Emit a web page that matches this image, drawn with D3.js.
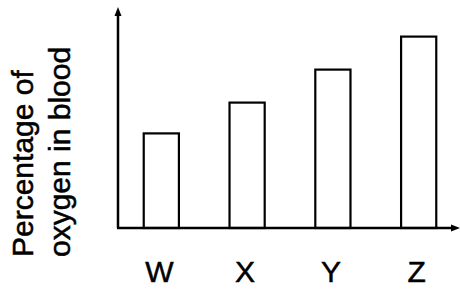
<!DOCTYPE html>
<meta charset="utf-8">
<style>
  body { margin: 0; background: #fff; }
  text { font-family: "Liberation Sans", Arial, sans-serif; fill: #000; stroke: #000; stroke-width: 0.5; }
</style>
<svg width="460" height="289"></svg>

<script src="https://d3js.org/d3.v7.min.js"></script>
<script>
// groups along the x axis and their (unlabelled) oxygen levels
var categories = ["W", "X", "Y", "Z"]
var oxygen = [43, 57, 72, 87]
var yLabelLines = ["Percentage of", "oxygen in blood"]

var svg = d3.select("svg")

var originX = 118, originY = 228
var axisTop = 8, axisRight = 459

var x = d3.scaleBand()
  .domain(categories)
  .range([originX, 462])
  .paddingInner(0.59)
  .paddingOuter(0.3)

var y = d3.scaleLinear()
  .domain([0, 100])
  .range([originY, axisTop])

// bars
svg.append("g").selectAll("rect")
  .data(categories)
  .enter().append("rect")
  .attr("x", function (d) { return x(d) })
  .attr("y", function (d, i) { return y(oxygen[i]) })
  .attr("width", x.bandwidth())
  .attr("height", function (d, i) { return originY - y(oxygen[i]) })
  .attr("fill", "#fff")
  .attr("stroke", "#000")
  .attr("stroke-width", 2.2)

// axes with arrow heads
var axes = svg.append("g")
axes.append("line")
  .attr("x1", originX).attr("y1", originY)
  .attr("x2", originX).attr("y2", axisTop + 4)
  .attr("stroke", "#000").attr("stroke-width", 2.5)
axes.append("line")
  .attr("x1", originX - 1).attr("y1", originY)
  .attr("x2", axisRight - 4).attr("y2", originY)
  .attr("stroke", "#000").attr("stroke-width", 2.5)
axes.append("path")
  .attr("d", "M" + originX + "," + (axisTop - 1) + "l-3.5,9h7z")
  .attr("fill", "#000")
axes.append("path")
  .attr("d", "M" + (axisRight + 1) + "," + originY + "l-9,-3.5v7z")
  .attr("fill", "#000")

// category labels
svg.append("g").selectAll("text")
  .data(categories)
  .enter().append("text")
  .attr("x", function (d) { return x(d) + x.bandwidth() / 2 - 2 })
  .attr("y", 282)
  .attr("text-anchor", "middle")
  .attr("font-size", 30)
  .text(function (d) { return d })

// rotated y axis title, two lines
svg.append("g").selectAll("text")
  .data(yLabelLines)
  .enter().append("text")
  .attr("transform", function (d, i) { return "translate(" + (33 + i * 37) + ",257) rotate(-90)" })
  .attr("text-anchor", "start")
  .attr("font-size", 30)
  .text(function (d) { return d })
</script>
